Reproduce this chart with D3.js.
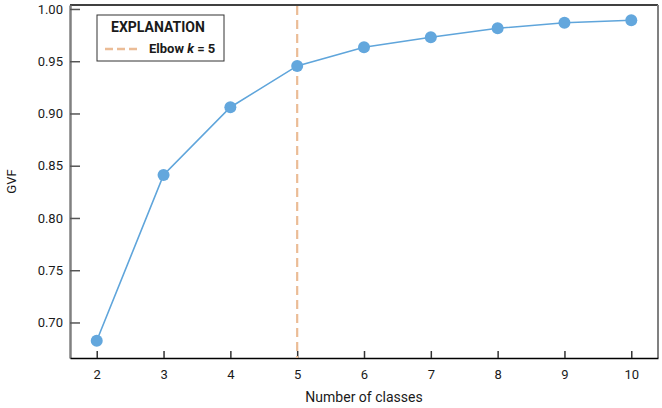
<!DOCTYPE html>
<html>
  <head>
    <meta charset="utf-8">
    <title>GVF elbow</title>
    <script src="https://cdn.jsdelivr.net/npm/d3@7"></script>
    <style>
      body { margin: 0; background: #fff; }
      text { font-family: "Liberation Sans Narrow", "Arial Narrow", "Roboto", sans-serif; fill: #1a1a1a; }
    </style>
  </head>
  <body>
    <svg id="chart" width="662" height="408"></svg>

    <script>
      // data
      classes = [2, 3, 4, 5, 6, 7, 8, 9, 10];
      gvf = [0.6825, 0.8411, 0.9060, 0.9455, 0.9633, 0.9730, 0.9815, 0.9868, 0.9892];
      yTicks = [0.70, 0.75, 0.80, 0.85, 0.90, 0.95, 1.00];
      elbowK = 5;

      svg = d3.select("#chart");
      margin = { left: 70, top: 5, right: 4, bottom: 50 };
      width = 662 - margin.left - margin.right;
      height = 408 - margin.top - margin.bottom;

      x = d3.scaleLinear().domain([1.6, 10.4]).range([margin.left, margin.left + width]);
      y = d3.scaleLinear().domain([0.666, 1.0038]).range([margin.top + height, margin.top]);

      // frame
      svg.append("line").attr("x1", margin.left).attr("x2", margin.left + width)
        .attr("y1", margin.top).attr("y2", margin.top)
        .attr("stroke", "#000").attr("stroke-width", 1.5);
      svg.append("line").attr("x1", margin.left + width).attr("x2", margin.left + width)
        .attr("y1", margin.top).attr("y2", margin.top + height)
        .attr("stroke", "#808080").attr("stroke-width", 2);

      // axes
      yAxis = d3.axisLeft(y).tickValues(yTicks).tickFormat(d3.format(".2f"))
        .tickSizeInner(-10).tickSizeOuter(0).tickPadding(14);
      yG = svg.append("g").attr("transform", "translate(" + margin.left + ",0)").call(yAxis);
      yG.select(".domain").attr("stroke", "#808080").attr("stroke-width", 2.5);
      yG.selectAll(".tick line").attr("stroke", "#555").attr("stroke-width", 1.5);
      yG.selectAll(".tick text").style("font-size", "13px").attr("x", -7);

      xAxis = d3.axisBottom(x).tickValues(classes).tickFormat(d3.format("d"))
        .tickSizeInner(-7).tickSizeOuter(0).tickPadding(14);
      xG = svg.append("g").attr("transform", "translate(0," + (margin.top + height) + ")").call(xAxis);
      xG.select(".domain").attr("stroke", "#000").attr("stroke-width", 1.5);
      xG.selectAll(".tick line").attr("stroke", "#333").attr("stroke-width", 1.5);
      xG.selectAll(".tick text").style("font-size", "13px").attr("y", 12);

      // axis titles
      svg.append("text").attr("transform", "translate(16," + (margin.top + height / 2) + ") rotate(-90)")
        .attr("text-anchor", "middle").style("font-size", "13px").text("GVF");
      svg.append("text").attr("x", margin.left + width / 2).attr("y", 402)
        .attr("text-anchor", "middle").style("font-size", "14px").text("Number of classes");

      // elbow line
      svg.append("line").attr("x1", x(elbowK)).attr("x2", x(elbowK))
        .attr("y1", margin.top + 1).attr("y2", margin.top + height)
        .attr("stroke", "#ebbc96").attr("stroke-width", 2.2).attr("stroke-dasharray", "9,5");

      // series
      points = classes.map(function(d, i) { return [d, gvf[i]]; });
      line = d3.line().x(function(d) { return x(d[0]); }).y(function(d) { return y(d[1]); });
      svg.append("path").datum(points).attr("d", line)
        .attr("fill", "none").attr("stroke", "#5fa5db").attr("stroke-width", 1.6);
      svg.selectAll(".pt").data(points).enter().append("circle")
        .attr("class", "pt")
        .attr("cx", function(d) { return x(d[0]); })
        .attr("cy", function(d) { return y(d[1]); })
        .attr("r", 6).attr("fill", "#63a7dd");

      // legend
      legend = svg.append("g").attr("transform", "translate(97,15)");
      legend.append("rect").attr("width", 127).attr("height", 46)
        .attr("fill", "#fff").attr("stroke", "#333").attr("stroke-width", 1);
      legend.append("text").attr("x", 14).attr("y", 17).style("font-size", "14px")
        .style("font-weight", "bold").text("EXPLANATION");
      legend.append("line").attr("x1", 8).attr("x2", 40).attr("y1", 34).attr("y2", 34)
        .attr("stroke", "#ebbc96").attr("stroke-width", 2.5).attr("stroke-dasharray", "8,4");
      lt = legend.append("text").attr("x", 52).attr("y", 38).style("font-size", "13px")
        .style("font-weight", "bold");
      lt.append("tspan").text("Elbow ");
      lt.append("tspan").style("font-style", "italic").text("k");
      lt.append("tspan").text(" = 5");
    </script>
  </body>
</html>
